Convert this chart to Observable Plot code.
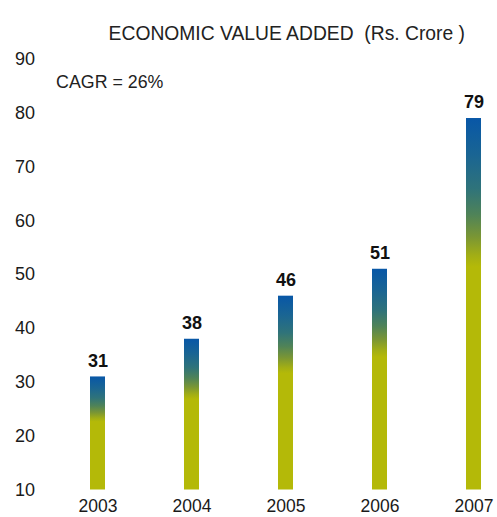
<!DOCTYPE html>
<html>
<head>
<meta charset="utf-8">
<script src="https://cdn.jsdelivr.net/npm/d3@7"></script>
<script src="https://cdn.jsdelivr.net/npm/@observablehq/plot@0.6"></script>
<style>
  html, body { margin: 0; padding: 0; background: #fff; }
</style>
</head>
<body>
<div id="chart"></div>
<script>
const years = ["2003", "2004", "2005", "2006", "2007"];
const values = [31, 38, 46, 51, 79];
const yTicks = [10, 20, 30, 40, 50, 60, 70, 80, 90];
const title = "ECONOMIC VALUE ADDED  (Rs. Crore )";
const note = "CAGR = 26%";

const data = years.map((year, i) => ({year, value: values[i]}));

const gradientDefs = () => {
  const defs = d3.create("svg:defs");
  const g = defs.append("linearGradient")
    .attr("id", "barGrad")
    .attr("x1", 0).attr("y1", 0).attr("x2", 0).attr("y2", 1);
  [[0, "#0857a7"], [0.1, "#1a6593"], [0.19, "#2f737a"], [0.26, "#4f8358"], [0.32, "#7a9634"], [0.37, "#a2ae15"], [0.4, "#b4b908"], [1, "#b4b908"]]
    .forEach(([o, c]) => g.append("stop").attr("offset", o).attr("stop-color", c));
  return defs.node();
};

const chart = Plot.plot({
  width: 497,
  height: 517,
  marginTop: 58.8,
  marginBottom: 27.5,
  marginLeft: 80.6,
  marginRight: 6,
  style: {fontFamily: "'Liberation Sans', Arial, sans-serif", fontSize: "18px", color: "#1a1a1a", background: "#fff"},
  x: {domain: years, paddingInner: 0.836, paddingOuter: 0.1},
  y: {domain: [10, 90]},
  marks: [
    gradientDefs,
    Plot.axisY({ticks: yTicks, tickSize: 0, tickPadding: 46, label: null, fontSize: 18}),
    Plot.axisX({tickSize: 0, tickPadding: 10, label: null, fontSize: 17.5}),
    Plot.barY(data, {x: "year", y1: 10, y2: "value", fill: "url(#barGrad)"}),
    Plot.text(data, {x: "year", y: "value", text: d => String(d.value), dy: -16, fontWeight: "bold", fontSize: 18, fill: "#111"}),
    Plot.text([title], {frameAnchor: "top", text: d => d, dx: 0.5, dy: -33, fontSize: 19.3, fill: "#222"}),
    Plot.text([note], {frameAnchor: "top-left", text: d => d, textAnchor: "start", dx: -25, dy: 16.5, fontSize: 17.8, fill: "#222"})
  ]
});

document.getElementById("chart").appendChild(chart);
</script>
</body>
</html>
